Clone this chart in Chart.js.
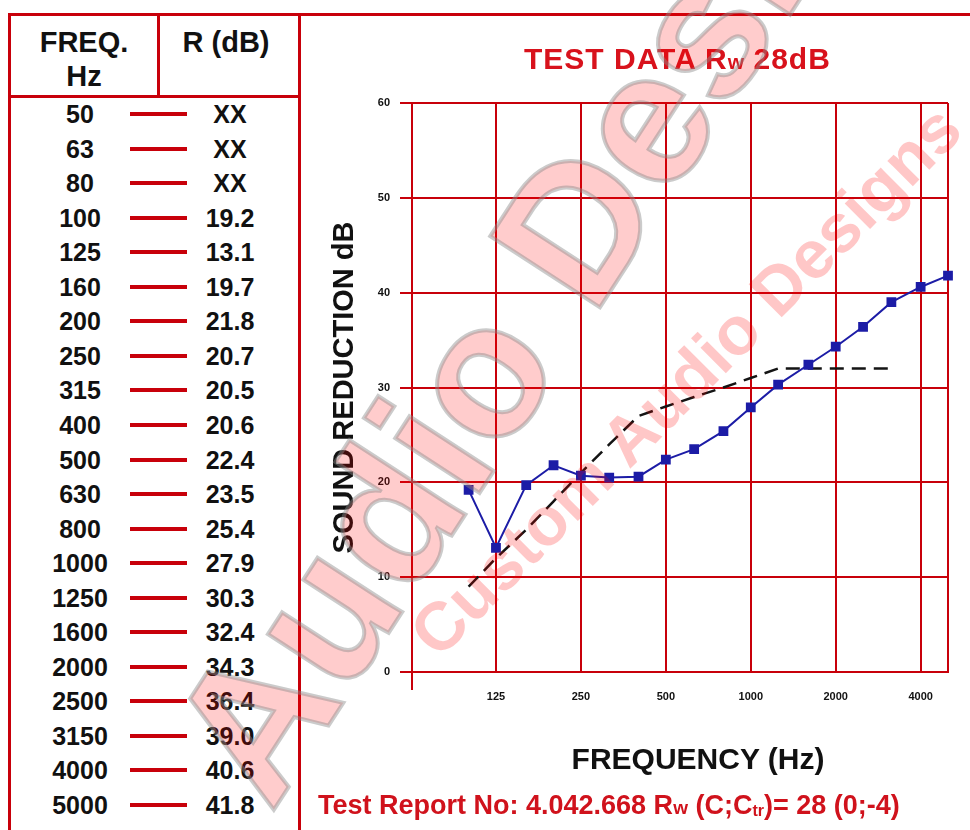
<!DOCTYPE html>
<html>
<head>
<meta charset="utf-8">
<script src="https://cdn.jsdelivr.net/npm/chart.js@4.4.1/dist/chart.umd.min.js"></script>
<style>
body { margin: 0; background: #fff; font-family: 'Liberation Sans', Arial, sans-serif; }
#page { position: relative; width: 970px; height: 830px; overflow: hidden; background: #fff; }
.ln { position: absolute; background: #c8000a; }
.hd { position: absolute; font-weight: bold; font-size: 29px; line-height: 29px; color: #111; transform: translateX(-50%); white-space: nowrap; }
.row { position: absolute; left: 0; width: 298px; height: 34.55px; font-weight: bold; font-size: 25px; line-height: 34.55px; color: #111; }
.row span { position: absolute; top: 0; transform: translateX(-50%); white-space: nowrap; }
.row i { position: absolute; left: 130px; width: 57px; height: 4px; top: 15px; background: #c8000a; }
#title { position: absolute; left: 524px; top: 44px; font-weight: bold; font-size: 30px; line-height: 30px; color: #d8121c; letter-spacing: 1px; white-space: nowrap; }
#xtitle { position: absolute; left: 698px; top: 744px; transform: translateX(-50%); font-weight: bold; font-size: 30px; line-height: 30px; color: #111; white-space: nowrap; }
#report { position: absolute; left: 318px; top: 792px; font-weight: bold; font-size: 27px; line-height: 27px; color: #d0121c; white-space: nowrap; }
canvas#chart { position: absolute; left: 301px; top: 16px; }
.wm { position: absolute; white-space: nowrap; font-weight: bold; pointer-events: none; }
#wm1 { left: 578px; top: 220px; font-size: 190px; line-height: 190px; color: rgba(255,0,0,0.2); -webkit-text-stroke: 4px rgba(140,140,140,0.45); transform: translate(-50%,-50%) rotate(-57deg); }
#wm2 { left: 685px; top: 380px; font-size: 68px; line-height: 68px; color: rgba(255,0,0,0.22); transform: translate(-50%,-50%) rotate(-45deg); }
</style>
</head>
<body>
<div id="page">
  <!-- frame -->
  <div class="ln" style="left:8px;top:13px;width:962px;height:3px"></div>
  <div class="ln" style="left:8px;top:13px;width:3px;height:817px"></div>
  <div class="ln" style="left:298px;top:13px;width:3px;height:817px"></div>
  <div class="ln" style="left:157px;top:13px;width:3px;height:84px"></div>
  <div class="ln" style="left:8px;top:95px;width:292px;height:3px"></div>

  <div class="hd" style="left:84px;top:28px">FREQ.</div>
  <div class="hd" style="left:84px;top:62px">Hz</div>
  <div class="hd" style="left:226px;top:28px">R (dB)</div>
  <div id="rows"></div>

  <canvas id="chart" width="669" height="814"></canvas>

  <div id="title">TEST DATA R<span style="font-size:21px;letter-spacing:0">w</span> 28dB</div>
  <div id="xtitle">FREQUENCY (Hz)</div>
  <div id="report">Test Report No: 4.042.668 R<span style="font-size:19px">w</span> (C;C<span style="font-size:16px;vertical-align:-2px">tr</span>)= 28 (0;-4)</div>

  <div class="wm" id="wm2">Custom Audio Designs</div>
  <div class="wm" id="wm1">Audio Designs</div>
</div>

<script>
// Table / measured data (one-third octave bands)
const bandLabels = ['50', '63', '80', '100', '125', '160', '200', '250', '315', '400', '500',
    '630', '800', '1000', '1250', '1600', '2000', '2500', '3150', '4000', '5000'];
const bandHz = [50, 63, 80, 100, 125, 160, 200, 250, 315, 400, 500,
    630, 800, 1000, 1250, 1600, 2000, 2500, 3150, 4000, 5000];
const rValues = [null, null, null, 19.2, 13.1, 19.7, 21.8, 20.7, 20.5, 20.6, 22.4,
    23.5, 25.4, 27.9, 30.3, 32.4, 34.3, 36.4, 39.0, 40.6, 41.8];

// Shifted reference curve (dashed)
const refHz = [100, 125, 160, 200, 250, 315, 400, 500, 630, 800, 1000, 1250, 1600, 2000, 2500, 3150];
const refValues = [9, 12, 15, 18, 21, 24, 27, 28, 29, 30, 31, 32, 32, 32, 32, 32];

// Axis ticks
const xGridHz = [63, 125, 250, 500, 1000, 2000, 4000, 5000];
const xTickLabels = [125, 250, 500, 1000, 2000, 4000];

// Build the table rows
const rowsEl = document.getElementById('rows');
bandLabels.forEach((f, i) => {
    const row = document.createElement('div');
    row.className = 'row';
    row.style.top = (97 + i * 34.55) + 'px';
    const v = rValues[i] === null ? 'XX' : rValues[i].toFixed(1);
    row.innerHTML = `<span style="left:80px">${f}</span><i></i><span style="left:230px">${v}</span>`;
    rowsEl.appendChild(row);
});

const measured = [];
bandHz.forEach((hz, i) => {
    if (rValues[i] !== null) measured.push({ x: hz, y: rValues[i] });
});
const reference = refHz.map((hz, i) => ({ x: hz, y: refValues[i] }));

const RED = '#c8000a';
const tickFont = { family: "'Liberation Sans', Arial, sans-serif", size: 11, weight: 'bold' };

// small stub of the y axis line below the plot
const axisStub = {
    id: 'axisStub',
    afterDraw(chart) {
        const { ctx, chartArea: a } = chart;
        ctx.save();
        ctx.strokeStyle = RED;
        ctx.lineWidth = 2;
        ctx.beginPath();
        ctx.moveTo(a.left, a.bottom);
        ctx.lineTo(a.left, a.bottom + 18);
        ctx.stroke();
        ctx.restore();
    }
};

new Chart(document.getElementById('chart'), {
    type: 'line',
    data: {
        datasets: [{
            label: 'Measured',
            data: measured,
            borderColor: '#1c1ca6',
            backgroundColor: '#1c1ca6',
            borderWidth: 2,
            pointStyle: 'rect',
            pointRadius: 5.5,
            pointHoverRadius: 5.5,
            tension: 0,
            clip: false
        }, {
            label: 'Reference',
            data: reference,
            borderColor: '#141414',
            borderWidth: 2.5,
            borderDash: [14, 8],
            pointRadius: 0,
            tension: 0
        }]
    },
    options: {
        responsive: false,
        animation: false,
        devicePixelRatio: 1,
        layout: { padding: { left: 0, right: 22, top: 87, bottom: 0 } },
        plugins: { legend: { display: false }, tooltip: { enabled: false } },
        scales: {
            x: {
                type: 'logarithmic',
                min: 63,
                max: 5000,
                afterBuildTicks: (scale) => { scale.ticks = xGridHz.map(v => ({ value: v })); },
                afterFit: (scale) => { scale.height = 158; },
                grid: { color: RED, lineWidth: 2, drawTicks: false },
                border: { color: RED, width: 2 },
                ticks: {
                    autoSkip: false,
                    maxRotation: 0,
                    padding: 18,
                    color: '#111',
                    font: tickFont,
                    callback: (v) => xTickLabels.includes(v) ? String(v) : ''
                }
            },
            y: {
                min: 0,
                max: 60,
                afterFit: (scale) => { scale.width = 111; },
                grid: { color: RED, lineWidth: 2, tickLength: 12 },
                border: { color: RED, width: 2 },
                ticks: { stepSize: 10, padding: 10, color: '#111', font: tickFont },
                title: {
                    display: true,
                    text: 'SOUND REDUCTION dB',
                    color: '#111',
                    padding: { top: 27, bottom: 0 },
                    font: { family: "'Liberation Sans', Arial, sans-serif", size: 29, weight: 'bold' }
                }
            }
        }
    },
    plugins: [axisStub]
});
</script>
</body>
</html>
